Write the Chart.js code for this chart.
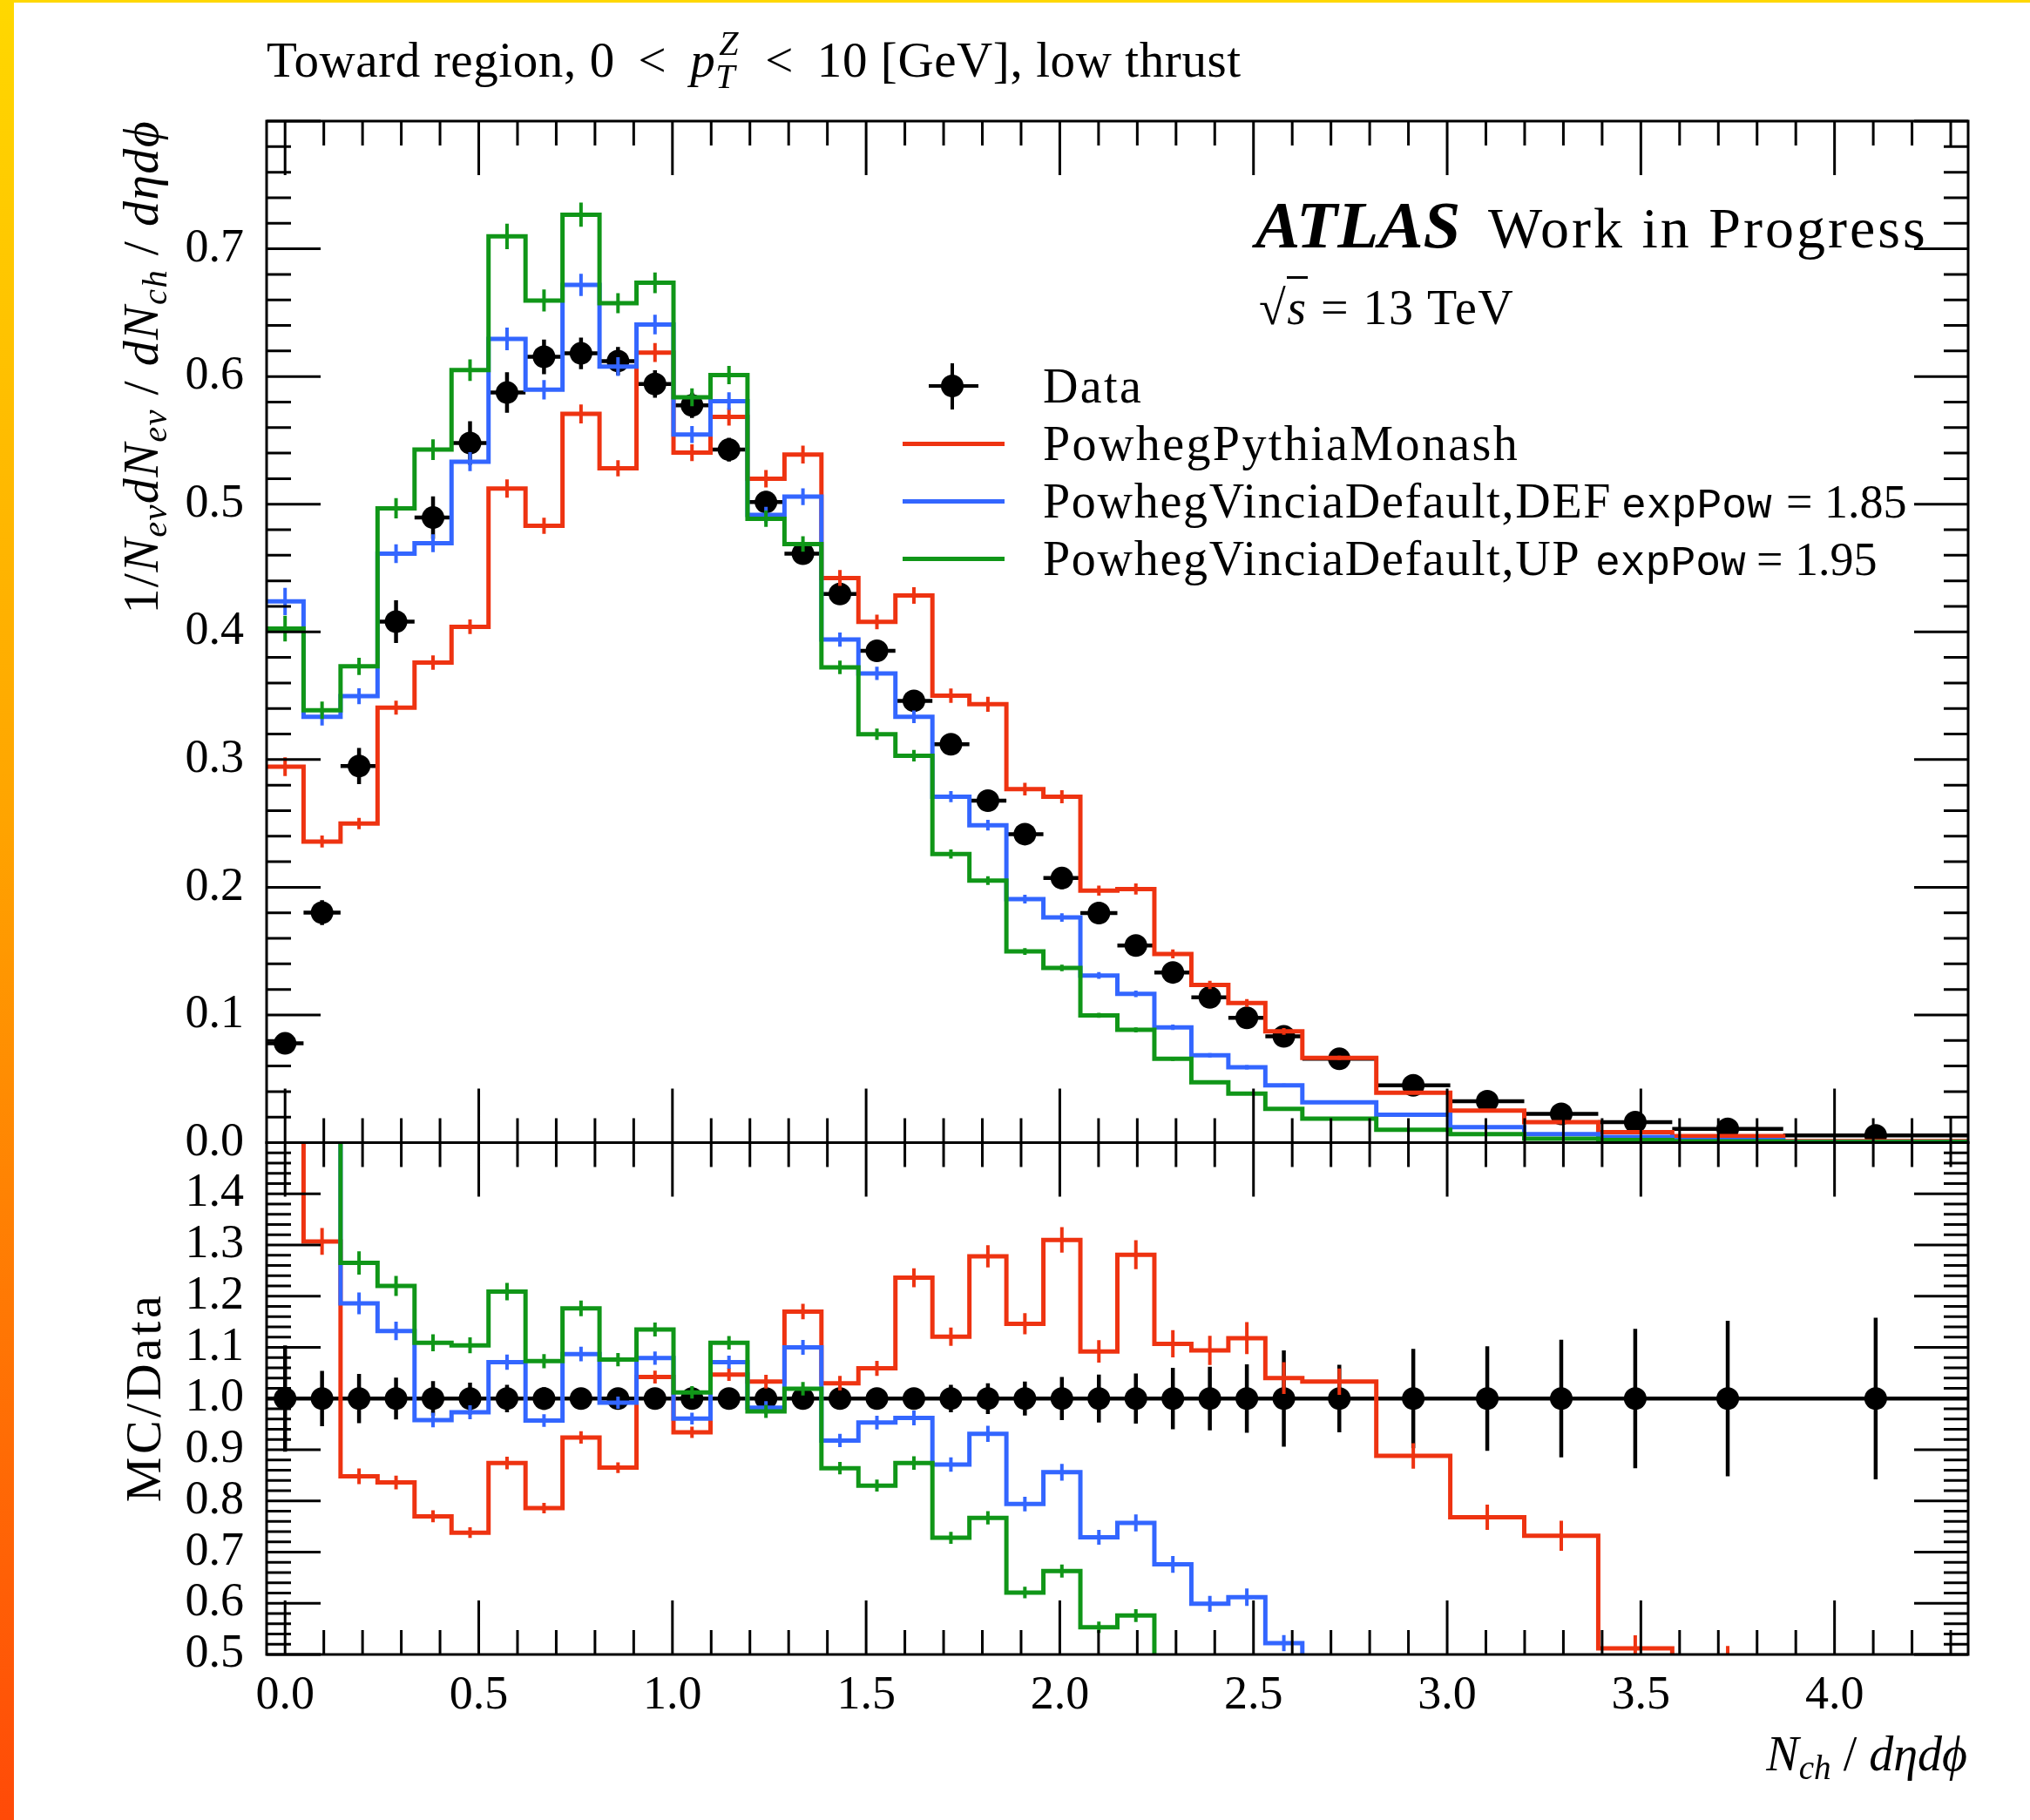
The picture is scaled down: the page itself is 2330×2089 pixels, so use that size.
<!DOCTYPE html>
<html>
<head>
<meta charset="utf-8">
<title>Toward region charged multiplicity</title>
<script src="https://cdn.jsdelivr.net/npm/chart.js@4.4.1/dist/chart.umd.min.js"></script>
<style>
  html, body { margin: 0; padding: 0; background: #fff; }
  body { position: relative; width: 2330px; height: 2089px; overflow: hidden; font-family: 'Liberation Serif', serif; color: #000; }
  .strip { position: absolute; left: 0; top: 0; width: 16px; height: 2089px; background: linear-gradient(#ffd800, #ffa400 45%, #ff4a08); }
  .topline { position: absolute; left: 0; top: 0; width: 2330px; height: 3px; background: #ffd800; }
  .t { position: absolute; line-height: 1; white-space: nowrap; }
  .rot { position: absolute; line-height: 1; white-space: nowrap; transform-origin: 0 0; transform: rotate(-90deg); }
  .sub { font-size: 0.7em; position: relative; top: 0.25em; }
  .name { font-size: 56px; letter-spacing: 2.4px; }
  .tt { font-family: 'Liberation Mono', monospace; font-size: 48px; }
  .num { font-size: 54px; }
  #mainWrap { position: absolute; left: 0; top: 0; }
  #ratioWrap { position: absolute; left: 0; top: 1250px; }
  .lline { position: absolute; left: 1036px; width: 117px; height: 5px; }
</style>
</head>
<body>
<div class="strip"></div>
<div class="topline"></div>

<div id="mainWrap"><canvas id="mainPlot" width="2330" height="1372"></canvas></div>
<div id="ratioWrap"><canvas id="ratioPlot" width="2330" height="839"></canvas></div>

<!-- title -->
<div class="t" style="left:306px; top:40px; font-size:57px; letter-spacing:0.6px;">Toward region, 0&thinsp; &lt; &thinsp;<i>p</i><span style="position:relative; display:inline-block; width:30px; height:0;"><i style="position:absolute; left:4px; top:-58px; font-size:40px;">Z</i><i style="position:absolute; left:0; top:-20px; font-size:40px;">T</i></span> &thinsp;&lt;&thinsp; 10 [GeV], low thrust</div>

<!-- experiment label -->
<div class="t" style="left:1441px; top:220px; font-size:77px; font-weight:bold; font-style:italic;">ATLAS</div>
<div class="t" style="left:1708px; top:229px; font-size:66px; letter-spacing:3px;">Work in Progress</div>
<div class="t" style="left:1445px; top:325px; font-size:56px; letter-spacing:1.5px;">&radic;<span style="border-top:3px solid #000; padding-top:2px;"><i>s</i></span> = 13 TeV</div>

<!-- legend -->
<div style="position:absolute; left:1091px; top:417px; width:4px; height:53px; background:#000;"></div>
<div style="position:absolute; left:1066px; top:441px; width:57px; height:4px; background:#000;"></div>
<div style="position:absolute; left:1080px; top:430px; width:26px; height:26px; border-radius:50%; background:#000;"></div>
<div class="lline" style="top:507px; background:#ee3311;"></div>
<div class="lline" style="top:573px; background:#3366ff;"></div>
<div class="lline" style="top:639px; background:#109618;"></div>
<div class="t name" style="left:1197px; top:415px;">Data</div>
<div class="t name" style="left:1197px; top:481px;">PowhegPythiaMonash</div>
<div class="t name" style="left:1197px; top:547px; letter-spacing:1.7px;">PowhegVinciaDefault,DEF</div>
<div class="t tt" style="left:1861px; top:557px;">expPow</div>
<div class="t num" style="left:2050px; top:549px;">= 1.85</div>
<div class="t name" style="left:1197px; top:613px; letter-spacing:1.7px;">PowhegVinciaDefault,UP</div>
<div class="t tt" style="left:1831px; top:623px;">expPow</div>
<div class="t num" style="left:2016px; top:615px;">= 1.95</div>

<!-- axis titles -->
<div class="rot" style="left:133px; top:738px; width:600px; text-align:right; font-size:58px; letter-spacing:1.3px;">1/<i>N</i><i class="sub">ev</i><i>dN</i><i class="sub">ev</i> / <i>dN</i><i class="sub">ch</i> / <i>d&eta;d&#981;</i></div>
<div class="rot" style="left:136px; top:1804px; width:400px; text-align:center; font-size:58px; letter-spacing:3.5px;">MC/Data</div>
<div class="t" style="right:72px; top:1985px; font-size:56px;"><i>N</i><i class="sub">ch</i> / <i>d&eta;d&#981;</i></div>

<script>
const FONT = "'Liberation Serif', serif";
const RED = '#ee3311';
const BLUE = '#3366ff';
const GREEN = '#109618';

// bin edges in Nch/(d eta d phi); single-Nch bins up to 27, then merged bins
const binEdges = [
  -0.0477, 0.0477, 0.1432, 0.2387, 0.3342, 0.4297, 0.5252, 0.6207, 0.7162, 0.8117,
  0.9072, 1.0027, 1.0982, 1.1937, 1.2892, 1.3846, 1.4801, 1.5756, 1.6711, 1.7666,
  1.8621, 1.9576, 2.0531, 2.1486, 2.2441, 2.3396, 2.4351, 2.5306, 2.6261, 2.8170,
  3.0080, 3.1990, 3.3900, 3.5810, 3.8675, 4.3449
];

const xTicks = [0.0, 0.5, 1.0, 1.5, 2.0, 2.5, 3.0, 3.5, 4.0];
const yMainTicks = [0.0, 0.1, 0.2, 0.3, 0.4, 0.5, 0.6, 0.7];
const yRatioTicks = [0.5, 0.6, 0.7, 0.8, 0.9, 1.0, 1.1, 1.2, 1.3, 1.4];

// measured distribution
const dataVals = [
  0.0777, 0.1801, 0.2949, 0.408, 0.4895, 0.5479, 0.5874, 0.6154, 0.6181, 0.6121,
  0.5941, 0.5774, 0.5427, 0.5016, 0.4612, 0.4297, 0.3852, 0.346, 0.312, 0.2678,
  0.2416, 0.2072, 0.1798, 0.1544, 0.1333, 0.1138, 0.0977, 0.0832, 0.0656, 0.0449,
  0.0324, 0.0225, 0.016, 0.0108, 0.0057
];
const dataRelErr = [
  0.104, 0.054, 0.048, 0.041, 0.034, 0.031, 0.027, 0.022, 0.02, 0.018,
  0.018, 0.017, 0.017, 0.017, 0.018, 0.018, 0.018, 0.019, 0.027, 0.03,
  0.033, 0.042, 0.047, 0.049, 0.06, 0.062, 0.067, 0.094, 0.066, 0.097,
  0.102, 0.115, 0.136, 0.152, 0.158
];

// generator predictions
const monash = [
  0.2944, 0.2358, 0.2499, 0.3407, 0.376, 0.404, 0.5123, 0.4831, 0.5707, 0.5281,
  0.6187, 0.5403, 0.5683, 0.5199, 0.5388, 0.4422, 0.4078, 0.4285, 0.35, 0.3433,
  0.2768, 0.2709, 0.1974, 0.1986, 0.1478, 0.1235, 0.1094, 0.0871, 0.0664, 0.039,
  0.025, 0.016, 0.0082, 0.0052, 0.0012
];
const vinciaDef = [
  0.4238, 0.3334, 0.3496, 0.4612, 0.4694, 0.5333, 0.6294, 0.5896, 0.6717, 0.6078,
  0.6407, 0.5546, 0.5807, 0.4916, 0.5059, 0.394, 0.3675, 0.3335, 0.2709, 0.2486,
  0.1907, 0.1763, 0.1309, 0.1165, 0.0903, 0.0684, 0.059, 0.0449, 0.0316, 0.0218,
  0.0121, 0.0066, 0.0044, 0.002, 0.0005
];
const vinciaUp = [
  0.4025, 0.3386, 0.373, 0.4968, 0.5427, 0.605, 0.7097, 0.6595, 0.7267, 0.6574,
  0.6734, 0.5837, 0.6011, 0.4886, 0.4688, 0.3722, 0.3198, 0.303, 0.226, 0.2052,
  0.1497, 0.1368, 0.0997, 0.0883, 0.0656, 0.0473, 0.0383, 0.0265, 0.0187, 0.01,
  0.0066, 0.003, 0.002, 0.001, 0.0005
];
const mcRelErr = [
  0.025, 0.02, 0.018, 0.016, 0.015, 0.014, 0.014, 0.013, 0.013, 0.012,
  0.012, 0.012, 0.012, 0.013, 0.013, 0.014, 0.014, 0.015, 0.016, 0.017,
  0.018, 0.019, 0.02, 0.022, 0.024, 0.026, 0.028, 0.03, 0.025, 0.028,
  0.032, 0.04, 0.05, 0.065, 0.1
];

// MC / Data
const monashRatio = [
  3.79, 1.307, 0.848, 0.836, 0.770, 0.738, 0.874, 0.786, 0.924, 0.865,
  1.042, 0.934, 1.047, 1.033, 1.170, 1.030, 1.059, 1.236, 1.121, 1.278,
  1.146, 1.310, 1.092, 1.281, 1.107, 1.094, 1.118, 1.040, 1.033, 0.888,
  0.768, 0.732, 0.512, 0.485, 0.21
];
const vinciaDefRatio = [
  5.45, 1.85, 1.186, 1.132, 0.958, 0.973, 1.071, 0.957, 1.087, 0.992,
  1.079, 0.961, 1.071, 0.982, 1.100, 0.918, 0.953, 0.962, 0.871, 0.931,
  0.794, 0.856, 0.729, 0.757, 0.676, 0.599, 0.612, 0.522, 0.48, 0.47,
  0.37, 0.29, 0.27, 0.19, 0.09
];
const vinciaUpRatio = [
  5.18, 1.88, 1.265, 1.220, 1.109, 1.104, 1.209, 1.073, 1.176, 1.076,
  1.135, 1.012, 1.109, 0.975, 1.019, 0.864, 0.830, 0.874, 0.728, 0.767,
  0.621, 0.663, 0.553, 0.576, 0.488, 0.42, 0.39, 0.32, 0.285, 0.22,
  0.2, 0.13, 0.12, 0.09, 0.09
];

const centers = binEdges.slice(0, -1).map((e, i) => (e + binEdges[i + 1]) / 2);

function stepPoints(vals) {
  const pts = [];
  vals.forEach((v, i) => {
    pts.push({x: binEdges[i], y: v}, {x: binEdges[i + 1], y: v});
  });
  return pts;
}

function mcErrs(vals) {
  return vals.map((v, i) => ({x: centers[i], y: v, d: v * mcRelErr[i]}));
}

function pointErrs(vals, rel) {
  return vals.map((v, i) => ({x: centers[i], y: v, d: v * rel[i], xlo: binEdges[i], xhi: binEdges[i + 1]}));
}

// vertical (and horizontal for data) error bars, drawn right after each dataset
const errorBars = {
  id: 'errorBars',
  afterDatasetDraw(chart, args) {
    const ds = chart.data.datasets[args.index];
    if (!ds.errs) return;
    const {ctx, chartArea: a} = chart;
    const x = chart.scales.x, y = chart.scales.y;
    ctx.save();
    ctx.beginPath();
    ctx.rect(a.left, a.top, a.right - a.left, a.bottom - a.top);
    ctx.clip();
    ctx.strokeStyle = ds.errColor;
    ctx.lineWidth = ds.errWidth;
    ctx.beginPath();
    ds.errs.forEach(e => {
      const px = x.getPixelForValue(e.x);
      if (e.xlo !== undefined) {
        const py = y.getPixelForValue(e.y);
        ctx.moveTo(x.getPixelForValue(e.xlo), py);
        ctx.lineTo(x.getPixelForValue(e.xhi), py);
      }
      ctx.moveTo(px, y.getPixelForValue(e.y - e.d));
      ctx.lineTo(px, y.getPixelForValue(e.y + e.d));
    });
    ctx.stroke();
    ctx.restore();
  }
};

// box frame with inward major/minor ticks on all four sides
const frame = {
  id: 'frame',
  afterDraw(chart, args, opts) {
    const {ctx, chartArea: a} = chart;
    const x = chart.scales.x, y = chart.scales.y;
    ctx.save();
    ctx.strokeStyle = '#000';
    ctx.lineWidth = 3;
    ctx.beginPath();
    for (let k = 0; k * 0.1 <= x.max + 1e-9; k++) {
      const px = x.getPixelForValue(k * 0.1);
      const len = k % 5 === 0 ? 62 : 28;
      ctx.moveTo(px, a.top); ctx.lineTo(px, a.top + len);
      ctx.moveTo(px, a.bottom); ctx.lineTo(px, a.bottom - len);
    }
    const n = Math.round((y.max - y.min) / opts.minor);
    for (let k = 0; k <= n; k++) {
      const py = y.getPixelForValue(y.min + k * opts.minor);
      const len = k % 5 === 0 ? 62 : 28;
      ctx.moveTo(a.left, py); ctx.lineTo(a.left + len, py);
      ctx.moveTo(a.right, py); ctx.lineTo(a.right - len, py);
    }
    ctx.stroke();
    ctx.strokeRect(a.left, a.top, a.right - a.left, a.bottom - a.top);
    ctx.restore();
  }
};

function histo(label, vals, color, order) {
  return {
    label: label,
    data: stepPoints(vals),
    borderColor: color,
    borderWidth: 5,
    borderJoinStyle: 'miter',
    pointRadius: 0,
    fill: false,
    tension: 0,
    order: order,
    errs: mcErrs(vals),
    errColor: color,
    errWidth: 4
  };
}

function dataSet(vals) {
  return {
    label: 'Data',
    data: vals.map((v, i) => ({x: centers[i], y: v})),
    showLine: false,
    pointRadius: 13,
    pointBackgroundColor: '#000',
    pointBorderWidth: 0,
    order: 4,
    errs: pointErrs(vals, dataRelErr),
    errColor: '#000',
    errWidth: 4.5
  };
}

function tickFont() {
  return {family: FONT, size: 54};
}

function panelOptions(yMin, yMax, yTicks, showX, pad) {
  const xScale = {
    type: 'linear',
    display: showX,
    bounds: 'data',
    min: binEdges[0],
    max: binEdges[binEdges.length - 1],
    afterBuildTicks: s => { s.ticks = xTicks.map(v => ({value: v})); },
    grid: {display: false, drawTicks: false},
    border: {display: false},
    ticks: {font: tickFont(), color: '#000', padding: 15, maxRotation: 0, autoSkip: false,
            callback: v => v.toFixed(1)}
  };
  if (showX) {
    xScale.afterFit = s => { s.height = 190; };
  }
  return {
    responsive: false,
    devicePixelRatio: 1,
    animation: false,
    layout: {padding: pad},
    plugins: {
      legend: {display: false},
      tooltip: {enabled: false},
      frame: {minor: 0.02}
    },
    scales: {
      x: xScale,
      y: {
        type: 'linear',
        bounds: 'data',
        min: yMin,
        max: yMax,
        afterBuildTicks: s => { s.ticks = yTicks.map(v => ({value: v})); },
        afterFit: s => { s.width = 306; },
        grid: {display: false, drawTicks: false},
        border: {display: false},
        ticks: {font: tickFont(), color: '#000', padding: 26, autoSkip: false,
                callback: v => v.toFixed(1)}
      }
    }
  };
}

new Chart(document.getElementById('mainPlot'), {
  type: 'line',
  data: {
    datasets: [
      histo('PowhegVinciaDefault,UP expPow = 1.95', vinciaUp, GREEN, 1),
      histo('PowhegVinciaDefault,DEF expPow = 1.85', vinciaDef, BLUE, 2),
      histo('PowhegPythiaMonash', monash, RED, 3),
      dataSet(dataVals)
    ]
  },
  options: panelOptions(0, 0.8, yMainTicks, false, {left: 0, right: 71, top: 139, bottom: 60.5}),
  plugins: [errorBars, frame]
});

const ratioData = dataSet(centers.map(() => 1.0));
ratioData.errs = centers.map((c, i) => ({x: c, y: 1.0, d: dataRelErr[i], xlo: binEdges[i], xhi: binEdges[i + 1]}));

new Chart(document.getElementById('ratioPlot'), {
  type: 'line',
  data: {
    datasets: [
      histo('PowhegVinciaDefault,UP expPow = 1.95', vinciaUpRatio, GREEN, 1),
      histo('PowhegVinciaDefault,DEF expPow = 1.85', vinciaDefRatio, BLUE, 2),
      histo('PowhegPythiaMonash', monashRatio, RED, 3),
      ratioData
    ]
  },
  options: panelOptions(0.5, 1.5, yRatioTicks, true, {left: 0, right: 71, top: 61.5, bottom: 0}),
  plugins: [errorBars, frame]
});
</script>
</body>
</html>
